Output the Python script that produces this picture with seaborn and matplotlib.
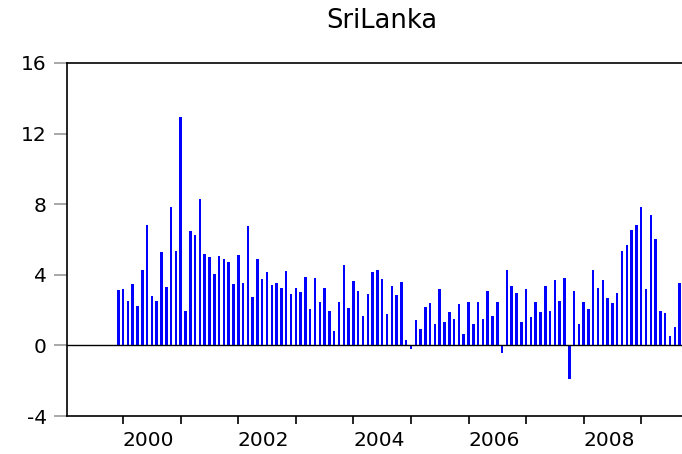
import matplotlib
matplotlib.use("Agg")
import matplotlib.pyplot as plt
import seaborn as sb
import pandas as pd
import numpy as np

sb.set_theme(style="white")

# monthly series, Dec 1999 .. Sep 2009
months = pd.period_range("1999-12", "2009-09", freq="M")
values = [3.12, 3.22, 2.52, 3.48, 2.22, 4.30, 6.82, 2.82, 2.54, 5.32, 3.30, 7.86,
          5.34, 12.94, 1.93, 6.49, 6.25, 8.28, 5.17, 5.00, 4.07, 5.07, 4.89, 4.72,
          3.49, 5.11, 3.54, 6.76, 2.73, 4.92, 3.77, 4.17, 3.43, 3.56, 3.24, 4.22,
          2.92, 3.27, 3.01, 3.88, 2.05, 3.83, 2.48, 3.27, 1.97, 0.83, 2.46, 4.55,
          2.14, 3.64, 3.11, 1.69, 2.90, 4.17, 4.28, 3.75, 1.76, 3.35, 2.84, 3.58,
          0.28, -0.20, 1.46, 0.95, 2.20, 2.39, 1.19, 3.18, 1.32, 1.88, 1.48, 2.36,
          0.64, 2.47, 1.24, 2.44, 1.48, 3.07, 1.67, 2.44, -0.42, 4.30, 3.35, 2.97,
          1.31, 3.20, 1.61, 2.46, 1.91, 3.35, 1.93, 3.73, 2.50, 3.81, -1.89, 3.11,
          1.19, 2.46, 2.08, 4.28, 3.27, 3.69, 2.67, 2.39, 2.99, 5.34, 5.70, 6.53,
          6.80, 7.84, 3.18, 7.39, 6.04, 1.93, 1.82, 0.53, 1.02, 3.52]
years = list(range(2000, 2010))
label_years = [2000, 2002, 2004, 2006, 2008]
y_ticks = [-4, 0, 4, 8, 12, 16]

# position = months since the first observation
start = months[0]
df = pd.DataFrame({"pos": [(m - start).n for m in months], "value": values})

def year_pos(y):
    return (pd.Period(f"{y}-01", freq="M") - start).n

fig = plt.figure(figsize=(6.82, 4.54), dpi=100)
ax = fig.add_axes([67/682, 38/454, 615/682, 353/454])

sb.barplot(data=df, x="pos", y="value", native_scale=True, width=0.52,
           color="#0000FF", saturation=1, linewidth=0, errorbar=None, ax=ax)

ax.axhline(0, color="black", lw=1.0, zorder=3)

ax.set_xlim(-10.7, 117.5)
ax.set_ylim(-4, 16)
ax.set_xlabel("")
ax.set_ylabel("")

# year ticks at january, labels sit inside the year
ax.set_xticks([year_pos(y) for y in years])
ax.set_xticklabels([])
ax.set_xticks([year_pos(y) + 5.3 for y in label_years], minor=True)
ax.set_xticklabels([str(y) for y in label_years], minor=True)
ax.tick_params(axis="x", which="major", direction="out", length=6, width=1.2,
               color="black", bottom=True)
ax.tick_params(axis="x", which="minor", length=0, pad=11, labelsize=14.5,
               labelcolor="black", bottom=True)

ax.set_yticks(y_ticks)
ax.set_yticklabels([str(t) for t in y_ticks])
ax.tick_params(axis="y", direction="out", length=9.5, width=1.2, color="#999999",
               pad=5, labelsize=14.5, labelcolor="black", left=True)

for s in ["left", "top", "bottom"]:
    ax.spines[s].set_color("black")
    ax.spines[s].set_linewidth(1.2)
ax.spines["right"].set_visible(False)

fig.text(381.7/682, 1 - 28/454, "SriLanka", ha="center", va="baseline",
         fontsize=18.5, color="black")

fig.savefig("out.png", dpi=100)
